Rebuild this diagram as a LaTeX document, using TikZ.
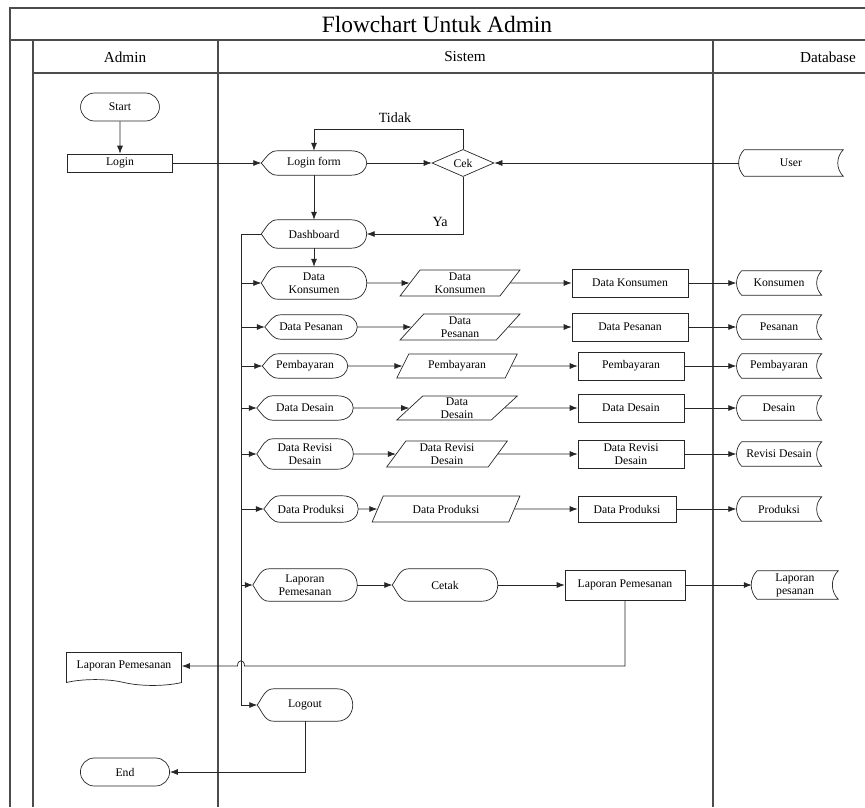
\documentclass[tikz,border=0pt]{standalone}
\usepackage{fontspec}
\setmainfont{Liberation Serif}
\usetikzlibrary{positioning,shapes.geometric,shapes.misc,shapes.symbols,arrows.meta,calc}

\begin{document}
\begin{tikzpicture}[
x=0.03cm, y=-0.03cm,
every node/.style={font=\fontsize{10}{11}\selectfont},
lane/.style={line width=1.2pt, draw=black!70},
plain/.style={draw=black!85, line width=0.6pt},
flow/.style={plain, -{Latex[length=2.4mm,width=1.8mm]}},
termbox/.style={draw=black!85, rounded rectangle, line width=0.6pt, minimum height=0.84cm, minimum width=2.6cm},
procbox/.style={draw=black!85, rectangle, line width=0.6pt, minimum height=0.84cm, align=center, inner sep=1pt},
iobox/.style={draw=black!85, trapezium, trapezium left angle=60, trapezium right angle=120,
    trapezium stretches=true, line width=0.6pt, minimum height=0.78cm, align=center, inner sep=1pt},
dispbox/.style={minimum height=0.84cm, align=center, inner sep=1pt},
storebox/.style={minimum height=0.72cm, minimum width=2.55cm, align=center, inner sep=1pt},
decbox/.style={draw=black!85, diamond, line width=0.6pt, minimum width=1.86cm, minimum height=0.78cm, inner sep=0pt},
docbox/.style={draw=black!85, tape, tape bend top=none, tape bend bottom=out and in, line width=0.6pt,
    minimum width=3.45cm, minimum height=0.99cm, inner sep=1pt},
hdr/.style={font=\fontsize{13}{14}\selectfont},
lbl/.style={font=\fontsize{12}{13}\selectfont}
]
\useasboundingbox (0,0) rectangle (865,807);

% swimlanes
\draw[lane] (10,807) -- (10,8) -- (865,8);
\draw[lane] (10,40) -- (865,40);
\draw[lane] (33,40) -- (33,807);
\draw[lane] (33,73) -- (865,73);
\draw[lane] (218,40) -- (218,807);
\draw[lane] (713,40) -- (713,807);

\node[font=\fontsize{20}{22}\selectfont] (title) at (437,24) {Flowchart Untuk Admin};
\node[hdr] (hadmin) at (125,57) {Admin};
\node[hdr] (hsistem) at (465,57) {Sistem};
\node[hdr] (hdb) at (828,57) {Database};

% login part
\node[termbox] (start) at (120,107) {Start};
\node[procbox, minimum width=3.15cm, minimum height=0.54cm] (login) at (120,163) {Login};
\node[dispbox, minimum width=3.15cm, minimum height=0.72cm] (lform) at (314,163) {Login form};
\node[decbox] (cek) at (463,163) {Cek};
\node[storebox, minimum width=3.12cm, minimum height=0.78cm] (user) at (791,163) {User};
\node[dispbox, minimum width=3.15cm] (dash) at (314,234) {Dashboard};
\node[lbl] (tidak) at (395,118) {Tidak};
\node[lbl] (ya) at (440,222) {Ya};

% menu rows
\node[dispbox, minimum width=3.15cm, minimum height=0.96cm] (dispkons) at (314,283) {Data\\Konsumen};
\node[iobox, minimum width=3.6cm] (inkons) at (460,283) {Data\\Konsumen};
\node[procbox, minimum width=3.48cm] (prokons) at (630,283) {Data Konsumen};
\node[storebox] (dbkons) at (779,283) {Konsumen};

\node[dispbox, minimum width=2.76cm, minimum height=0.72cm] (disppes) at (311,327) {Data Pesanan};
\node[iobox, minimum width=3.6cm] (inpes) at (460,327) {Data\\Pesanan};
\node[procbox, minimum width=3.48cm] (propes) at (630,327) {Data Pesanan};
\node[storebox] (dbpes) at (779,327) {Pesanan};

\node[dispbox, minimum width=2.55cm, minimum height=0.72cm] (dispbayar) at (305,366) {Pembayaran};
\node[iobox, minimum width=3.63cm, minimum height=0.72cm] (inbayar) at (457,366) {Pembayaran};
\node[procbox, minimum width=3.18cm] (probayar) at (631,366) {Pembayaran};
\node[storebox] (dbbayar) at (779,366) {Pembayaran};

\node[dispbox, minimum width=2.88cm, minimum height=0.72cm] (dispdesain) at (305,408) {Data Desain};
\node[iobox, minimum width=3.63cm, minimum height=0.72cm] (indesain) at (457,408) {Data\\Desain};
\node[procbox, minimum width=3.18cm] (prodesain) at (631,408) {Data Desain};
\node[storebox] (dbdesain) at (779,408) {Desain};

\node[dispbox, minimum width=2.88cm, minimum height=0.9cm] (disprevisi) at (305,454) {Data Revisi\\Desain};
\node[iobox, minimum width=3.63cm] (inrevisi) at (447,454) {Data Revisi\\Desain};
\node[procbox, minimum width=3.18cm] (prorevisi) at (631,454) {Data Revisi\\Desain};
\node[storebox] (dbrevisi) at (779,454) {Revisi Desain};

\node[dispbox, minimum width=2.82cm, minimum height=0.78cm] (dispprod) at (311,509) {Data Produksi};
\node[iobox, minimum width=4.44cm] (inprod) at (446,509) {Data Produksi};
\node[procbox, minimum width=2.94cm, minimum height=0.78cm] (proprod) at (627,509) {Data Produksi};
\node[storebox] (dbprod) at (779,509) {Produksi};

\node[dispbox, minimum width=3.12cm, minimum height=0.96cm] (displap) at (305,585) {Laporan\\Pemesanan};
\node[dispbox, minimum width=3.15cm, minimum height=0.96cm] (cetak) at (445,585) {Cetak};
\node[procbox, minimum width=3.6cm, minimum height=0.9cm] (prolap) at (625,585) {Laporan Pemesanan};
\node[storebox, minimum width=2.58cm, minimum height=0.84cm] (dblap) at (795,585) {Laporan\\pesanan};

% end part
\node[docbox] (lapdoc) at (124,666) {Laporan Pemesanan};
\node[dispbox, minimum width=2.85cm, minimum height=0.96cm] (logout) at (305,705) {Logout};
\node[termbox, minimum width=2.91cm] (end) at (125,772) {End};

% display and stored data outlines
\foreach \n in {lform,dash,dispkons,disppes,dispbayar,dispdesain,disprevisi,dispprod,displap,cetak,logout}
  \draw[plain] (\n.west) .. controls ($(\n.west)!0.55!(\n.north west)+(1.8mm,0)$) and ($(\n.north west)+(2.4mm,0)$) .. ($(\n.north west)+(5mm,0)$)
    -- ($(\n.north east)+(-4.8mm,0)$)
    .. controls ($(\n.north east)+(1.6mm,0)$) and ($(\n.south east)+(1.6mm,0)$) .. ($(\n.south east)+(-4.8mm,0)$)
    -- ($(\n.south west)+(5mm,0)$)
    .. controls ($(\n.south west)+(2.4mm,0)$) and ($(\n.west)!0.55!(\n.south west)+(1.8mm,0)$) .. (\n.west);
\foreach \n in {user,dbkons,dbpes,dbbayar,dbdesain,dbrevisi,dbprod,dblap}
  \draw[plain] ($(\n.north west)+(1.6mm,0)$) -- (\n.north east) to[bend right=45] (\n.south east)
    -- ($(\n.south west)+(1.6mm,0)$) to[bend left=45] ($(\n.north west)+(1.6mm,0)$);

% connectors
\draw[flow] (start) -- (login);
\draw[flow] (login.east) -- (lform.west);
\draw[flow] (lform.east) -- (cek.west);
\draw[flow] (user.west) -- (cek.east);
\draw[flow] (cek.north) -- ++(0,-20) -| (lform.north);
\draw[flow] (cek.south) |- (dash.east);
\draw[flow] (lform.south) -- (dash.north);
\draw[flow] (dash.south) -- (dispkons.north);

\coordinate (trunk) at (241,234);
\draw[flow] (dash.west) -| (trunk |- logout.west) -- (logout.west);
\foreach \n in {dispkons,disppes,dispbayar,dispdesain,disprevisi,dispprod,displap}
  \draw[flow] (trunk |- \n.west) -- (\n.west);

\foreach \a/\b/\c/\d in {dispkons/inkons/prokons/dbkons, disppes/inpes/propes/dbpes,
    dispbayar/inbayar/probayar/dbbayar, dispdesain/indesain/prodesain/dbdesain,
    disprevisi/inrevisi/prorevisi/dbrevisi, dispprod/inprod/proprod/dbprod, displap/cetak/prolap/dblap} {
  \draw[flow] (\a.east) -- (\b.west);
  \draw[flow] (\b.east) -- (\c.west);
  \draw[flow] (\c.east) -- (\d.west);
}

\draw[flow] (prolap.south) |- ([xshift=3pt]trunk |- lapdoc.east) .. controls +(0,-7) and +(0,-7) .. ([xshift=-3pt]trunk |- lapdoc.east) -- (lapdoc.east);
\draw[flow] (logout.south) |- (end.east);

\end{tikzpicture}
\end{document}
